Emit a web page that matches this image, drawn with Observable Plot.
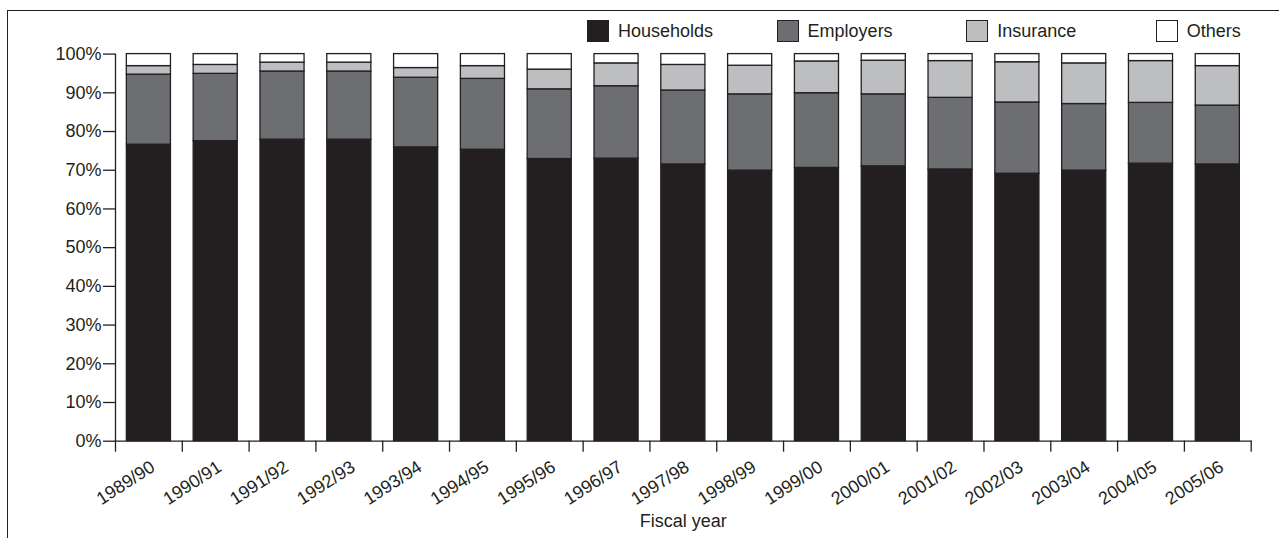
<!DOCTYPE html>
<html><head><meta charset="utf-8">
<script src="https://cdn.jsdelivr.net/npm/d3@7"></script>
<script src="https://cdn.jsdelivr.net/npm/@observablehq/plot@0.6"></script>
<style>
body{margin:0;background:#fff;font-family:"Liberation Sans",Arial,sans-serif;color:#231f20}
#wrap{position:relative;width:1279px;height:538px;overflow:hidden}
#border{position:absolute;left:7px;top:10px;width:1400px;height:600px;border-left:1.5px solid #231f20;border-top:1.5px solid #231f20;z-index:2;pointer-events:none}
#legend{position:relative;height:44px;padding-left:587px;display:flex;align-items:flex-start;box-sizing:border-box}
.item{width:189.6px;flex:none;display:flex;align-items:center;margin-top:20px;height:22px;font-size:18px}
.sw{width:20px;height:20px;border:1px solid #231f20;margin-right:9px;flex:none}
</style></head>
<body><div id="wrap"><div id="border"></div><div id="legend"></div><div id="chart"></div></div>
<script>
const years = ["1989/90","1990/91","1991/92","1992/93","1993/94","1994/95","1995/96","1996/97","1997/98","1998/99","1999/00","2000/01","2001/02","2002/03","2003/04","2004/05","2005/06"];
const seriesNames = ["Households","Employers","Insurance","Others"];
const seriesColors = ["#231f20","#6d6e71","#bcbec0","#ffffff"];
const households = [76.6,77.5,77.9,77.9,75.9,75.3,72.9,73.0,71.5,69.9,70.6,71.0,70.2,69.1,69.9,71.7,71.5];
const employers  = [18.1,17.4,17.6,17.6,18.0,18.3,18.0,18.7,19.1,19.7,19.3,18.6,18.5,18.4,17.2,15.7,15.2];
const insurance  = [2.2,2.3,2.3,2.3,2.5,3.3,5.1,5.9,6.6,7.4,8.2,8.7,9.5,10.4,10.5,10.8,10.2];
const others     = [3.1,2.8,2.2,2.2,3.6,3.1,4.0,2.4,2.8,3.0,1.9,1.7,1.8,2.1,2.4,1.8,3.1];
const yTicks = [0,10,20,30,40,50,60,70,80,90,100];

const seriesValues = [households, employers, insurance, others];
const data = [];
seriesNames.forEach((s, j) => years.forEach((yr, i) => data.push({year: yr, series: s, value: seriesValues[j][i]})));

// legend
const legend = document.getElementById("legend");
seriesNames.forEach((s, j) => {
  const it = document.createElement("div"); it.className = "item";
  const sw = document.createElement("div"); sw.className = "sw"; sw.style.background = seriesColors[j];
  const tx = document.createElement("span"); tx.textContent = s;
  it.appendChild(sw); it.appendChild(tx); legend.appendChild(it);
});

const W = 1279, H = 494, ml = 115, mr = 28.3, mt = 9.6, mb = 97.3;
const step = (W - ml - mr) / years.length;
const ink = "#231f20";

const chart = Plot.plot({
  width: W, height: H, marginLeft: ml, marginRight: mr, marginTop: mt, marginBottom: mb,
  style: {fontFamily: '"Liberation Sans", Arial, sans-serif', fontSize: "18px", color: ink, background: "transparent"},
  x: {domain: years, paddingInner: 0.34, paddingOuter: 0.17, round: false, axis: null, label: null},
  y: {domain: [0, 100], axis: null, label: null},
  color: {domain: seriesNames, range: seriesColors},
  marks: [
    Plot.barY(data, {x: "year", y: "value", fill: "series", stroke: ink, strokeWidth: 1.3}),
    Plot.axisY({ticks: yTicks, tickFormat: d => d + "%", tickSize: 12, tickPadding: 2, strokeWidth: 1.3, label: null}),
    Plot.frame({anchor: "left", strokeWidth: 1.3}),
    Plot.frame({anchor: "bottom", strokeWidth: 1.3}),
    Plot.axisX({tickSize: 11, tickFormat: () => "", dx: -step / 2, strokeWidth: 1.3, label: null}),
    Plot.axisX({ticks: [years[years.length - 1]], tickSize: 11, tickFormat: () => "", dx: step / 2, strokeWidth: 1.3, label: null}),
    Plot.axisX({tickSize: 0, tickRotate: -33, tickPadding: 24, dx: 4, label: null}),
    Plot.text(["Fiscal year"], {frameAnchor: "bottom", dy: 86, fontSize: 18, fill: ink})
  ]
});
document.getElementById("chart").appendChild(chart);
</script>
</body></html>
